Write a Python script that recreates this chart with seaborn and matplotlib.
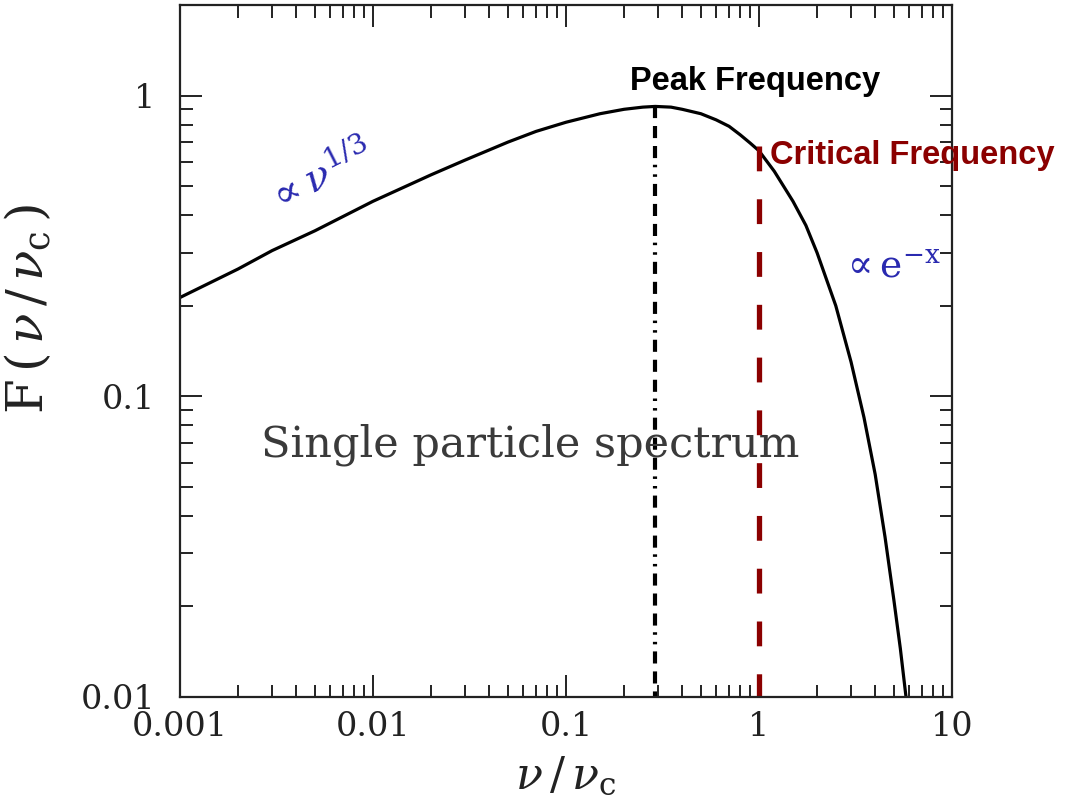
import matplotlib
matplotlib.use("Agg")
import matplotlib.pyplot as plt
import numpy as np
import pandas as pd
import seaborn as sns
from matplotlib.ticker import LogLocator, FixedLocator, NullFormatter

# values
nu = [0.001, 0.002, 0.003, 0.005, 0.01, 0.02, 0.03, 0.05, 0.07, 0.1,
      0.15, 0.2, 0.25, 0.29, 0.35, 0.4, 0.5, 0.6, 0.7, 0.8,
      0.9, 1.0, 1.2, 1.5, 1.75, 2.0, 2.5, 3.0, 3.5, 4.0,
      4.5, 5.0, 5.4, 5.8]
F = [0.213, 0.265, 0.305, 0.355, 0.445, 0.545, 0.610, 0.700, 0.760, 0.815,
     0.870, 0.900, 0.915, 0.920, 0.915, 0.900, 0.870, 0.830, 0.790, 0.740,
     0.695, 0.655, 0.560, 0.445, 0.370, 0.300, 0.200, 0.130, 0.085, 0.055,
     0.034, 0.021, 0.0145, 0.0098]

peak_nu, peak_F = 0.29, 0.925
crit_nu, crit_F = 1.0, 0.68

x_ticks = [0.001, 0.01, 0.1, 1, 10]
x_labels = ["0.001", "0.01", "0.1", "1", "10"]
y_ticks = [0.01, 0.1, 1]
y_labels = ["0.01", "0.1", "1"]

df = pd.DataFrame({"nu": nu, "F": F})

sns.set_theme(style="white")
plt.rcParams["font.family"] = ["DejaVu Serif"]
plt.rcParams["mathtext.fontset"] = "dejavuserif"

fig = plt.figure(figsize=(10.67, 8.08), dpi=100)
ax = fig.add_axes([0.1687, 0.1374, 0.7235, 0.8564])

sns.lineplot(data=df, x="nu", y="F", color="black", linewidth=2.3, ax=ax)

# peak and critical frequency markers (dash-dash-dash-dot-dot / long dashes)
ax.plot([peak_nu, peak_nu], [peak_F, 0.01], color="black", linewidth=3,
        linestyle=(0, (2.9, 1.9, 2.9, 1.9, 2.9, 1.6, 0.6, 1.7, 0.6, 1.7)))
ax.plot([crit_nu, crit_nu], [crit_F, 0.01], color="#8b0000", linewidth=3.8,
        linestyle=(0, (4.7, 5.3)))

ax.set_xscale("log")
ax.set_yscale("log")
ax.set_xlim(0.001, 10)
ax.set_ylim(0.01, 2)

ax.xaxis.set_major_locator(FixedLocator(x_ticks))
ax.set_xticklabels(x_labels)
ax.yaxis.set_major_locator(FixedLocator(y_ticks))
ax.set_yticklabels(y_labels)
ax.xaxis.set_minor_locator(LogLocator(base=10, subs=np.arange(2, 10)))
ax.yaxis.set_minor_locator(LogLocator(base=10, subs=np.arange(2, 10)))
ax.xaxis.set_minor_formatter(NullFormatter())
ax.yaxis.set_minor_formatter(NullFormatter())

ax.tick_params(which="both", direction="in", top=True, right=True, bottom=True, left=True,
               color="#222222", width=1.4, labelsize=24, labelcolor="#222222")
ax.tick_params(which="major", length=16)
ax.tick_params(which="minor", length=9)
ax.tick_params(axis="x", which="major", pad=10)
ax.tick_params(axis="y", which="major", pad=18)

for s in ax.spines.values():
    s.set_color("#222222")
    s.set_linewidth(1.6)

ax.set_xlabel(r"$\nu\,/\,\nu_{\rm c}$", fontsize=32, color="#222222", labelpad=9)
ax.set_ylabel(r"F$\,(\,\nu\,/\,\nu_{\rm c}\,)$", fontsize=36, color="#222222")
ax.yaxis.set_label_coords(-0.162, 0.56)

ax.text(0.745, 0.889, "Peak Frequency", transform=ax.transAxes, ha="center", va="center",
        fontsize=23.5, fontweight="bold", family=["Liberation Sans"], color="black")
ax.text(0.764, 0.783, "Critical Frequency", transform=ax.transAxes, ha="left", va="center",
        fontsize=23.5, fontweight="bold", family=["Liberation Sans"], color="#8b0000")
ax.text(0.181, 0.752, r"$\propto\nu^{1/3}$", transform=ax.transAxes, ha="center", va="center",
        fontsize=29, rotation=27, color="#2a2ab0")
ax.text(0.92, 0.621, r"$\propto \mathrm{e}^{-\mathrm{x}}$", transform=ax.transAxes,
        ha="center", va="center", fontsize=27, color="#2a2ab0")
ax.text(0.453, 0.364, "Single particle spectrum", transform=ax.transAxes, ha="center",
        va="center", fontsize=31, color="#3a3a3a")

fig.savefig("out.png", dpi=100)
